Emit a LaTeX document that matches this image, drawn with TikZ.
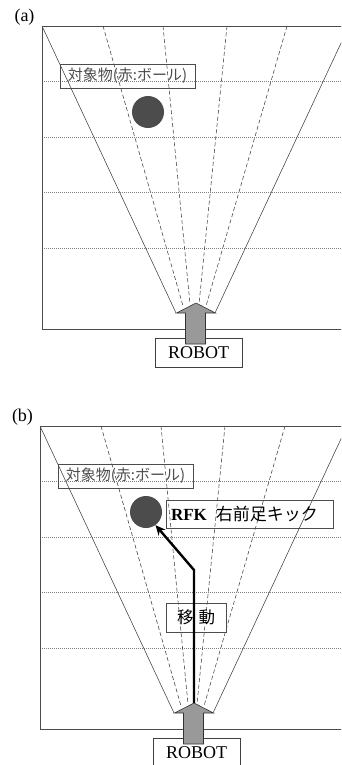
\documentclass[tikz,border=0pt]{standalone}
\usepackage{fontspec}
\setmainfont{Liberation Serif}
\newfontfamily\jpfont{Noto Sans CJK JP}
\usetikzlibrary{arrows.meta}
\tikzset{
  framel/.style={line width=0.8pt, draw=black!70},
  thinl/.style={line width=0.55pt, draw=black!75},
  dashl/.style={line width=0.55pt, draw=black!75, dash pattern=on 4pt off 2.5pt},
  dotl/.style={line width=0.6pt, draw=black!50, dash pattern=on 1pt off 1pt},
  labelbox/.style={draw=black!70, line width=0.6pt, inner sep=0pt, minimum width=135pt, minimum height=24pt,
    font=\jpfont\fontsize{15}{16}\selectfont, text=black!70},
  robotbox/.style={draw=black!75, line width=0.6pt, inner sep=0pt, minimum width=87pt, minimum height=29pt,
    font=\fontsize{18}{20}\selectfont},
  ballnode/.style={circle, fill=black!70, inner sep=0pt, minimum size=32pt},
  bigarrow/.style={fill=black!40, draw=black!80, line width=0.6pt},
  panellabel/.style={font=\fontsize{18}{20}\selectfont, inner sep=0pt},
  infobox/.style={draw=black!70, line width=0.6pt, inner sep=0pt},
  movearrow/.style={line width=2.4pt, -{Stealth[length=10pt,width=9pt]}}
}
\newcommand{\drawpanel}[2]{%
  \node[panellabel] (plabel#1) at (24.5,17) {(#2)};
  % horizontal dotted lines
  \foreach \yy in {81,137,192,248} {\draw[dotl] (42,\yy) -- (350,\yy);}
  % fan lines
  \draw[thinl] (42,26) -- (176,313);
  \draw[thinl] (349,26) -- (215,313);
  \draw[dashl] (103,26) -- (183,306);
  \draw[dashl] (163,26) -- (190,304);
  \draw[dashl] (227,26) -- (199,304);
  \draw[dashl] (287,26) -- (206,306);
  % frame
  \draw[framel] (350,26) -- (42,26) -- (42,329) -- (350,329);
  % object label and ball
  \node[labelbox] (label#1) at (127.5,76) {対象物(赤:ボール)};
  \node[ballnode] (ball#1) at (148,112) {};
  % robot
  \node[robotbox] (robot#1) at (198.5,352.5) {ROBOT};
  \coordinate (tip#1) at (196,303);
  \filldraw[bigarrow] (tip#1) -- (215.5,313) -- (205.5,313) -- (205.5,344) -- (185.5,344) -- (185.5,313) -- (176.5,313) -- cycle;
}
\begin{document}
\begin{tikzpicture}[x=1pt,y=-1pt]
\useasboundingbox (0,0) rectangle (341,765);
\clip (0,0) rectangle (341,765);
\begin{scope}
  \drawpanel{A}{a}
\end{scope}
\begin{scope}[shift={(-2,400)}]
  \drawpanel{B}{b}
  \node[infobox, minimum width=167pt, minimum height=28pt, text width=157pt, align=left] (rfk) at (251.5,114)
    {\fontsize{17}{18}\selectfont\bfseries RFK\hspace{9pt}\mdseries\jpfont 右前足キック};
  \node[infobox, minimum width=60pt, minimum height=29pt] (move) at (198,217.5)
    {\jpfont\fontsize{16.5}{18}\selectfont 移\hspace{5pt}動};
  \coordinate (bend) at (196,170);
  \draw[movearrow] (tipB) -- (bend) -- (ballB.-54);
\end{scope}
\end{tikzpicture}
\end{document}
